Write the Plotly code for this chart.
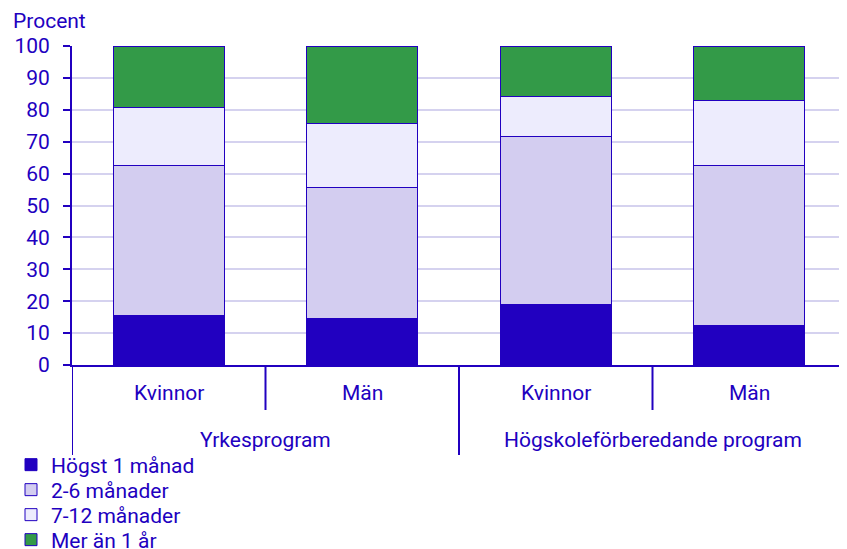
import plotly.graph_objects as go

programs = ["Yrkesprogram", "Yrkesprogram", "Högskoleförberedande program", "Högskoleförberedande program"]
genders = ["Kvinnor", "Män", "Kvinnor", "Män"]

series_names = ["Högst 1 månad", "2-6 månader", "7-12 månader", "Mer än 1 år"]
hogst_1_manad = [15.5, 14.5, 18.9, 12.4]
manader_2_6 = [47.0, 41.0, 52.6, 50.1]
manader_7_12 = [18.2, 20.3, 12.7, 20.4]
mer_an_1_ar = [19.3, 24.2, 15.8, 17.1]
y_ticks = [0, 10, 20, 30, 40, 50, 60, 70, 80, 90, 100]

colors = ["#2100C0", "#D3CDF0", "#EDECFD", "#339A48"]
text_color = "#2100C0"
grid_color = "#D5D2EF"
font_family = "Roboto, Arial, sans-serif"
fs = 21

# the page body adds an 8px margin; size the figure so it fills the window
OFF = 8
W, H = 847 - OFF, 549 - OFF
ML, MR = 72 - OFF, 1
MT = 46 - OFF
MB = H - (365 - OFF)
plot_h = H - MT - MB
plot_w = W - ML - MR


def py(page_y):
    """Window pixel y (from top) to paper y."""
    return (H - MB - (page_y - OFF)) / plot_h


def px(page_x):
    return (page_x - OFF - ML) / plot_w


keys = [f"{p} | {g}" for p, g in zip(programs, genders)]

fig = go.Figure()
legend_ids = ["legend", "legend2", "legend3", "legend4"]
for name, vals, col, lid in zip(series_names, [hogst_1_manad, manader_2_6, manader_7_12, mer_an_1_ar], colors, legend_ids):
    fig.add_trace(go.Bar(
        name=name,
        x=keys,
        y=vals,
        marker=dict(color=col, line=dict(color=text_color, width=1)),
        width=0.575,
        legend=lid,
    ))

# legends, one row each
legend_layout = {}
for i, lid in enumerate(legend_ids):
    legend_layout[lid] = dict(
        x=px(11), xanchor="left",
        y=py(465 + 25 * i), yanchor="middle",
        font=dict(size=fs, color=text_color, family=font_family),
        itemwidth=30,
        bgcolor="rgba(0,0,0,0)",
        borderwidth=0,
    )

annotations = [dict(
    text="Procent", xref="paper", yref="paper", x=px(11), y=py(21),
    xanchor="left", yanchor="middle", showarrow=False,
    font=dict(size=fs, color=text_color),
)]
shapes = []

# inner level labels
for i, g in enumerate(genders):
    annotations.append(dict(
        text=g, xref="x", yref="paper", x=i, y=py(393),
        xanchor="center", yanchor="middle", showarrow=False,
        font=dict(size=fs, color=text_color),
    ))

# group labels and dividers
groups = []
for i, p in enumerate(programs):
    if not groups or groups[-1][0] != p:
        groups.append([p, i, i])
    else:
        groups[-1][2] = i
for p, a, b in groups:
    annotations.append(dict(
        text=p, xref="x", yref="paper", x=(a + b) / 2, y=py(440),
        xanchor="center", yanchor="middle", showarrow=False,
        font=dict(size=fs, color=text_color),
    ))
    for edge in (a - 0.5, b + 0.5):
        shapes.append(dict(type="line", xref="x", yref="paper", x0=edge, x1=edge,
                           y0=0, y1=py(455), line=dict(color=text_color, width=2)))
    for j in range(a, b):
        shapes.append(dict(type="line", xref="x", yref="paper", x0=j + 0.5, x1=j + 0.5,
                           y0=0, y1=py(410), line=dict(color=text_color, width=2)))

fig.update_layout(
    barmode="stack",
    width=W,
    height=H,
    margin=dict(l=ML, r=MR, t=MT, b=MB, autoexpand=False),
    paper_bgcolor="white",
    plot_bgcolor="white",
    font=dict(family=font_family, size=fs, color=text_color),
    showlegend=True,
    annotations=annotations,
    shapes=shapes,
    **legend_layout,
)

fig.update_yaxes(
    range=[0, 100],
    tickvals=y_ticks,
    showgrid=True, gridcolor=grid_color, gridwidth=1.5,
    showline=True, linecolor=text_color, linewidth=2,
    ticks="outside", ticklen=7, tickcolor=text_color, tickwidth=2,
    ticklabelstandoff=9,
    tickfont=dict(size=fs, color=text_color),
    zeroline=False,
    automargin=False,
)
fig.update_xaxes(
    type="category",
    range=[-0.5, len(keys) - 0.5],
    showline=True, linecolor=text_color, linewidth=2,
    ticks="", showticklabels=False,
    showgrid=False,
    automargin=False,
)

fig.write_html("out.html")
